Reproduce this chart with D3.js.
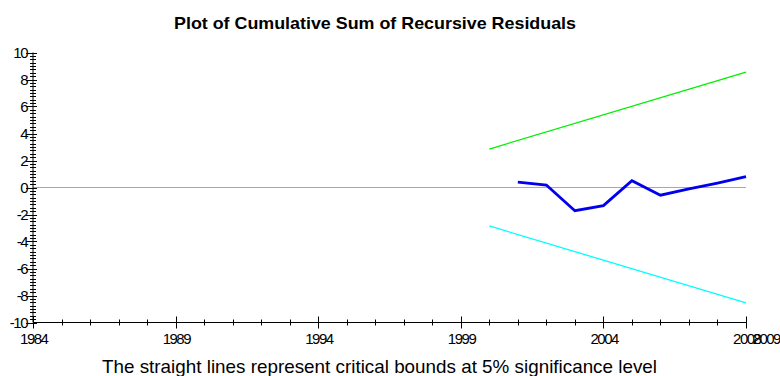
<!DOCTYPE html>
<html><head><meta charset="utf-8">
<script src="https://cdn.jsdelivr.net/npm/d3@7"></script>
<style>
html,body{margin:0;padding:0;background:#fff;}
svg{display:block;font-family:"Liberation Sans",Arial,sans-serif;}
</style></head>
<body><svg id="c" width="780" height="376"></svg>
<script>
const title = "Plot of Cumulative Sum of Recursive Residuals";
const footer = "The straight lines represent critical bounds at 5% significance level";
const cusumYears = [2001,2002,2003,2004,2005,2006,2007,2008,2009];
const cusumValues = [0.40,0.18,-1.72,-1.34,0.50,-0.57,-0.10,0.33,0.80];
const boundYears = [2000,2009];
const upperBound = [2.85,8.55];
const lowerBound = [-2.85,-8.55];
const xMajorTicks = [1984,1989,1994,1999,2004,2009];
const xTickLabels = ["1984","1989","1994","1999","2004","2008"];
const xExtraLabel = "2009";
const yMajorTicks = [-10,-8,-6,-4,-2,0,2,4,6,8,10];

const svg = d3.select("#c");
const x = d3.scaleLinear().domain([1984,2009]).range([33,746]);
const y = d3.scaleLinear().domain([-10,10]).range([322.5,52.5]);
const LS = -1.5;
const FS = 15;

// zero line
svg.append("line").attr("x1",x(1984)).attr("x2",x(2009)).attr("y1",y(0)).attr("y2",y(0))
  .attr("stroke","#a8a8a8").attr("stroke-width",1.2);

// axes lines
svg.append("line").attr("x1",x(1984)).attr("x2",x(2009)).attr("y1",y(-10)).attr("y2",y(-10)).attr("stroke","#000");
svg.append("line").attr("x1",x(1984)).attr("x2",x(1984)).attr("y1",y(-10)).attr("y2",y(10)).attr("stroke","#000");

// y ticks
const yMinor = d3.range(-10,10.001,0.25);
svg.append("g").selectAll("line").data(yMinor).join("line")
  .attr("x1",x(1984)-3).attr("x2",x(1984)+3).attr("y1",d=>Math.round(y(d))+0.5).attr("y2",d=>Math.round(y(d))+0.5)
  .attr("stroke","#000").attr("stroke-width",1);
svg.append("g").selectAll("line").data(yMajorTicks).join("line")
  .attr("x1",x(1984)-7).attr("x2",x(1984)+4).attr("y1",d=>Math.round(y(d))+0.5).attr("y2",d=>Math.round(y(d))+0.5)
  .attr("stroke","#000");
svg.append("g").selectAll("text").data(yMajorTicks).join("text")
  .attr("x",x(1984)-7.5-LS).attr("y",d=>y(d)+5.3).attr("text-anchor","end")
  .attr("font-size",FS).attr("letter-spacing",LS).text(d=>d);

// x ticks
const xMinor = d3.range(1984,2009.5,1);
svg.append("g").selectAll("line").data(xMinor).join("line")
  .attr("x1",d=>Math.round(x(d))+0.5).attr("x2",d=>Math.round(x(d))+0.5).attr("y1",y(-10)-3).attr("y2",y(-10)+3)
  .attr("stroke","#000");
svg.append("g").selectAll("line").data(xMajorTicks).join("line")
  .attr("x1",d=>Math.round(x(d))+0.5).attr("x2",d=>Math.round(x(d))+0.5).attr("y1",y(-10)-6).attr("y2",y(-10)+6)
  .attr("stroke","#000");
svg.append("g").selectAll("text").data(xMajorTicks).join("text")
  .attr("x",d=>x(d)-LS/2).attr("y",343.5).attr("text-anchor","middle")
  .attr("font-size",FS).attr("letter-spacing",LS).text((d,i)=>xTickLabels[i]);
svg.append("text").attr("x",x(2009)+19.5-LS/2).attr("y",343.5).attr("text-anchor","middle")
  .attr("font-size",FS).attr("letter-spacing",LS).text(xExtraLabel);

// bounds
const line = d3.line().x(d=>x(d[0])).y(d=>y(d[1]));
svg.append("path").attr("d",line(boundYears.map((d,i)=>[d,upperBound[i]])))
  .attr("fill","none").attr("stroke","#00ee00").attr("stroke-width",1.3);
svg.append("path").attr("d",line(boundYears.map((d,i)=>[d,lowerBound[i]])))
  .attr("fill","none").attr("stroke","#00ffff").attr("stroke-width",1.3);
svg.append("path").attr("d",line(cusumYears.map((d,i)=>[d,cusumValues[i]])))
  .attr("fill","none").attr("stroke","#0000ee").attr("stroke-width",2.8).attr("stroke-linejoin","miter");

// title & footer
svg.append("text").attr("x",375).attr("y",29).attr("text-anchor","middle")
  .attr("font-size",17).attr("font-weight","bold").attr("textLength",402).attr("lengthAdjust","spacingAndGlyphs").text(title);
svg.append("text").attr("x",379.5).attr("y",372.5).attr("text-anchor","middle")
  .attr("font-size",19).attr("textLength",555).attr("lengthAdjust","spacingAndGlyphs").text(footer);
</script></body></html>
